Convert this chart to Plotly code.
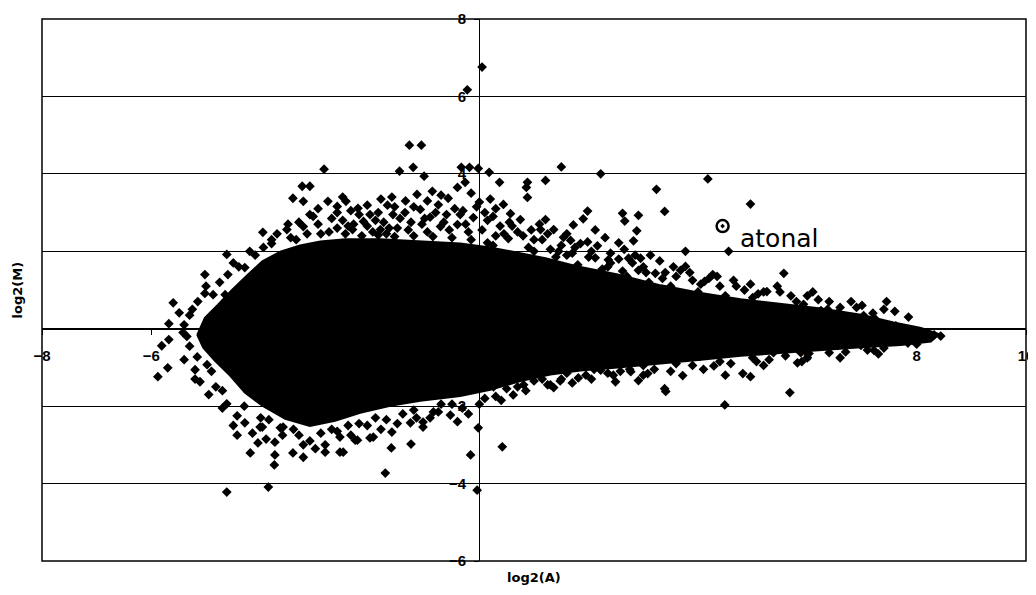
import plotly.graph_objects as go

# ---- dense core of the MA cloud (outline of the solid black region) ----
core_upper_x = [-5.16, -5.02, -4.78, -4.52, -4.23, -3.97, -3.64, -3.28, -2.91, -2.45, -1.81, -1.08,
                -0.35, 0.20, 0.75, 1.21, 1.76, 2.53, 3.32, 4.05, 4.78, 5.51, 6.25, 6.98, 7.58, 8.08, 8.41]
core_upper_y = [-0.16, 0.28, 0.62, 1.01, 1.40, 1.74, 1.99, 2.15, 2.25, 2.31, 2.31, 2.25,
                2.20, 2.10, 1.95, 1.82, 1.62, 1.40, 1.12, 0.92, 0.76, 0.64, 0.52, 0.36, 0.16, 0.02, -0.14]
core_lower_x = [8.26, 7.71, 6.98, 6.25, 5.51, 4.78, 4.05, 3.32, 2.53, 1.85, 1.30, 0.75, 0.20,
                -0.35, -1.08, -1.63, -2.18, -2.64, -3.10, -3.55, -3.97, -4.29, -4.56, -4.84, -5.05]
core_lower_y = [-0.33, -0.42, -0.48, -0.55, -0.62, -0.70, -0.80, -0.90, -1.00, -1.08, -1.18, -1.35, -1.58,
                -1.74, -1.86, -1.99, -2.17, -2.38, -2.51, -2.33, -1.99, -1.65, -1.21, -0.82, -0.49]

# ---- individual genes outside the solid core ----
gene_x = [0.05, -0.22, -1.28, -1.06, -2.84, -1.46, -1.21, -1.01, -0.33, -0.18, -0.02, 0.18, 0.37, 0.88, 0.88,
          1.21, 1.50, 0.86, 2.22, 4.18, 3.24, 4.96, 3.39, 2.91, 2.62, 2.66, 1.98, 1.90, 1.72, 1.36, 1.12, 1.21,
          0.75, 0.57, 0.44, 0.20, 0.00, 0.70, 0.53, 0.15, 0.38, 0.15, -0.11, -0.40, -0.71, -0.90, -1.08, -1.36,
          -1.58, -1.81, -2.12, -2.32, -2.44, -2.05, -2.22, -1.68, -1.14, -0.86, -0.57, -0.40, -0.26, -3.24, -3.10,
          -3.41, -3.22, -2.77, -2.60, -3.04, -3.96, -3.52, -3.22, -4.62, -4.29, -5.02, -4.60, -5.02, -4.87, -4.65,
          -5.60, -5.49, -5.68, -5.42, -5.68, -5.81, -5.70, -5.88, -5.16, -4.98, -5.20, -5.11, -4.82, -4.62, -4.43,
          -4.29, -4.43, -4.19, -3.74, -3.74, -3.75, -3.41, -3.22, -2.82, -2.55, -3.97, -3.59, -4.62, -3.86, -1.72,
          -0.02, -0.16, -0.04, 0.42, -2.82, -3.22, -1.61, -1.25, -1.03, -0.84, -0.53, -0.31, -2.00, -2.27, -2.55,
          -3.64, -4.01, 0.62, 0.81, 1.30, 0.26, -1.03, -1.26, -1.60, -1.94, -2.23, -2.49,
          2.49, 3.39, 3.72, 4.49, 4.82, 4.96, 5.07, 2.91, 3.08, 2.77, 1.36, 1.48, 1.81, 2.22, 2.58, 4.29, 3.41,
          3.77, 4.56, 4.27, 3.77, 3.68, 3.90, 4.12, 4.96, 5.26, 3.00, 3.13, 3.22, 2.95, 2.91, 2.73, 2.36, 2.25,
          2.12, 2.62, 2.12, 1.98, 2.16, 2.55, 2.88, 2.82, 1.54, 1.67,
          5.57, 7.45, 5.93, 6.25, 6.37, 6.54, 7.03, 7.25, 7.62, 8.32, 8.44, 5.82, 5.68, 5.88, 6.03, 6.56, 6.98,
          7.22, 7.45, 7.84, 5.38,
          -2.30, -1.95, -1.50, -1.25, -0.95, -0.60, -0.30, -2.60, -2.90, -3.35, -3.80, -1.70, -0.20, 0.30, -2.00,
          -2.70, -1.35, -0.75, 0.60, 1.00,
          1.00, 1.40, 1.80, 2.20, 2.70, 3.10, 3.50, 4.00, 4.50, 5.00, 5.80, 6.60, 7.20, 1.70, 2.40, 3.40, 4.40,
          5.20, 6.00, 6.90,
          -4.00, -3.30, -2.90, -2.40, -1.90, -1.40, -0.70, 0.10, 0.50, 1.00, 1.60, 2.10, 3.00, 3.60, 4.40, 5.00,
          5.60, 6.40, 7.10, -4.70, -4.90, -5.30, -5.30, -5.15, -4.40, -4.10, -3.80,
          -3.45, -3.15, -2.75, -2.45, -2.15, -1.85, -1.55, -1.20, -0.85, -0.50, -0.15, 0.25,
          -3.30, -2.95, -2.50, -2.20, -1.75, -1.45, -1.05, -0.65, -0.25, 0.05, 0.45,
          -2.95, -2.35, -1.85, -1.20, -0.45, 0.10, 0.55, -1.60, -0.95, -0.15,
          0.90, 1.30, 1.60, 2.00, 2.40, 2.80, 0.80, 1.15, 1.50, 1.85, 2.30, 2.65, 3.00, 3.30, 3.60, 4.20, 4.70,
          5.50, 6.20, 6.80, 7.60,
          -3.60, -3.10, -2.70, -2.20, -1.70, -1.20, -0.90, -0.50, -0.20, 0.30, 0.70, 1.15, 1.50, 1.95, 2.35, 2.75,
          3.20, 3.90, 4.60, 5.30, 6.00, 6.70, 7.40, 8.00,
          -5.40, -5.35, -5.25, -5.00, -4.75, -4.50, -4.20, -3.95, -5.40, -5.20, -4.95, -4.70, -4.50, -4.15, -3.90,
          -3.70, -3.50, -3.10, -2.60, -2.40, -2.05, -1.90, -1.65, -1.30, -1.00, -0.80, -0.55, -0.35, -0.05, 0.25,
          0.30, -1.55, -2.50, -1.80, -0.70,
          0.95, 1.25, 1.45, 1.75, 2.05, 2.35, 2.55, 2.85, 3.05, 3.35, 3.55, 3.85, 4.05, 4.35, 4.65, 4.85, 5.10,
          5.45, 5.70, 6.10, 6.40, 7.00, 7.40, 7.85, 1.10, 1.60,
          -4.30, -4.05, -3.85, -3.40, -3.00, -2.60, -2.35, -2.05, -1.80, -1.50, -1.15, -0.75, -0.40, 0.00, 0.40,
          0.85, 1.25, 1.70, 2.05, 2.45, 3.00, 3.50, 4.10, 4.50, 5.20, 5.90, 6.60, 7.30]
gene_y = [6.76, 6.17, 4.74, 4.74, 4.12, 4.07, 4.17, 3.94, 4.17, 4.17, 4.14, 4.04, 3.78, 3.78, 3.39,
          3.83, 4.18, 3.65, 4.00, 3.87, 3.60, 3.22, 3.03, 2.93, 2.98, 2.78, 3.04, 2.84, 2.68, 2.56, 2.56, 2.82,
          2.82, 2.97, 3.21, 3.35, 3.27, 2.50, 2.33, 2.22, 2.65, 2.80, 2.87, 2.69, 2.64, 2.88, 3.08, 3.00,
          2.95, 2.56, 2.77, 2.56, 3.29, 3.19, 3.11, 3.19, 3.47, 3.55, 3.37, 3.65, 3.78, 3.68, 3.68,
          3.37, 3.29, 3.29, 3.16, 2.90, 2.49, 2.56, 2.64, 1.92, 1.58, 1.40, 1.40, 0.91, 0.88, 0.88,
          0.67, 0.41, 0.13, -0.10, -0.28, -0.44, -1.01, -1.24, -0.73, -0.93, -1.06, -1.37, -1.50, -1.94, -2.25,
          -2.43, -2.75, -3.21, -2.93, -3.26, -3.52, -3.21, -3.32, -3.19, -3.19, -2.54, -2.54, -4.22, -4.09, -3.73,
          -2.56, -3.26, -4.17, -3.05, -3.00, -3.00, -3.08, -2.98, -2.54, -2.15, -2.23, -2.05, -2.82, -2.88, -2.80,
          -2.56, -2.54, -1.71, -1.45, -1.45, -1.50, -2.41, -2.43, -2.67, -2.80, -2.88, -3.19,
          -1.37, -1.55, -1.21, -1.97, -1.16, -1.24, -0.85, -1.34, -1.16, -1.11, -1.52, -1.35, -1.27, -1.07, -1.10,
          -0.96, -1.62,
          2.00, 2.00, 1.40, 1.61, 1.51, 1.25, 1.22, 1.15, 0.96, 1.12, 1.90, 1.43, 1.82, 1.51, 1.82, 1.78, 1.54,
          1.83, 1.49, 2.55, 2.24, 2.14, 2.22, 2.53, 2.27, 2.36, 2.28,
          1.43, 0.70, 0.63, 0.47, 0.50, 0.39, 0.34, 0.24, 0.07, -0.16, -0.19, -0.88, -1.65, -0.62, -0.64, -0.43,
          -0.43, -0.56, -0.36, -0.37, -0.62,
          2.70, 2.50, 2.60, 2.75, 2.50, 2.95, 3.05, 2.60, 2.45, 2.30, 2.20, 2.45, 2.50, 2.40, 2.95,
          2.85, 3.30, 3.20, 2.65, 2.30,
          2.00, 1.85, 1.65, 1.45, 1.35, 1.20, 1.10, 0.95, 0.85, 0.80, 0.70, 0.55, 0.40, 1.95, 1.70, 1.45, 1.10,
          0.95, 0.85, 0.55,
          -2.30, -2.75, -2.70, -2.50, -2.30, -2.20, -1.95, -1.80, -1.55, -1.35, -1.15, -1.05, -0.95, -0.90, -0.85,
          -0.75, -0.70, -0.62, -0.55, -1.60, -1.10, -0.45, 0.35, 0.70, 1.60, 1.90, 2.30,
          2.35, 2.45, 2.50, 2.45, 2.40, 2.42, 2.38, 2.40, 2.38, 2.35, 2.30, 2.15,
          2.75, 2.70, 2.80, 2.95, 2.75, 2.85, 2.70, 2.75, 2.70, 2.55, 2.45,
          3.10, 3.05, 3.00, 3.15, 3.10, 3.00, 2.75, 3.40, 3.30, 3.50,
          2.10, 2.05, 1.90, 1.85, 1.95, 1.70, 2.40, 2.30, 2.15, 2.20, 2.35, 2.05, 1.60, 1.75, 1.35, 1.30, 1.10,
          0.95, 0.75, 0.70, 0.45,
          -2.75, -2.90, -2.60, -2.45, -2.35, -2.10, -2.30, -1.95, -2.20, -1.75, -1.50, -1.30, -1.30, -1.20, -1.15,
          -1.05, -1.05, -0.95, -0.90, -0.80, -0.75, -0.60, -0.50, -0.40,
          0.10, -0.20, 0.50, 1.10, 1.20, 1.70, 2.00, 2.10, -0.80, -1.30, -1.70, -2.05, -2.50, -2.70, -2.85,
          2.45, 2.70, 2.95, 3.00, 2.65, 2.65, 2.80, 2.60, 2.55, 2.85, 3.00, 2.55, 2.95, 3.15, 2.90,
          3.10, 3.15, 3.40, 3.35, 3.45,
          2.55, 2.45, 2.00, 2.10, 2.00, 1.60, 1.80, 1.90, 1.45, 1.30, 1.60, 1.45, 1.15, 1.35, 1.25, 1.00, 0.90,
          1.10, 0.85, 0.95, 0.70, 0.60, 0.50, 0.30, 2.70, 2.45,
          -2.00, -2.95, -2.35, -2.60, -3.10, -2.65, -2.75, -2.50, -2.60, -2.45, -2.30, -2.15, -2.40, -1.95, -1.85,
          -1.60, -1.45, -1.40, -1.30, -1.20, -1.20, -1.10, -1.05, -1.20, -0.95, -0.85, -0.75, -0.65]

# ---- highlighted gene ----
atonal_x = [4.45]
atonal_y = [2.65]
atonal_label = "atonal"

x_ticks = [-8, -6, -4, -2, 0, 2, 4, 6, 8, 10]
y_ticks = [-6, -4, -2, 0, 2, 4, 6, 8]

core_x = core_upper_x + core_lower_x + [core_upper_x[0]]
core_y = core_upper_y + core_lower_y + [core_upper_y[0]]

fig = go.Figure()
fig.add_trace(go.Scatter(x=core_x, y=core_y, mode="lines", fill="toself",
                         fillcolor="black", line=dict(color="black", width=2),
                         hoverinfo="skip", showlegend=False))
fig.add_trace(go.Scatter(x=gene_x, y=gene_y, mode="markers",
                         marker=dict(symbol="diamond", size=7.5, color="black", line=dict(width=0)),
                         showlegend=False))
fig.add_trace(go.Scatter(x=atonal_x, y=atonal_y, mode="markers",
                         marker=dict(symbol="circle-open-dot", size=12, color="black",
                                     line=dict(width=2.5, color="black")),
                         showlegend=False))

tickfont = dict(family="Liberation Sans", size=15, color="black", weight="bold")

# the page has an 8px body margin, so the figure is sized to end at the window edge
fig.update_layout(
    width=1028, height=587,
    margin=dict(l=34, r=10, t=11, b=34, autoexpand=False),
    paper_bgcolor="white", plot_bgcolor="white",
    showlegend=False,
    xaxis=dict(range=[-8, 10], tickvals=x_ticks, showgrid=False, zeroline=False, automargin=False,
               anchor="free", position=6 / 14, showline=True, linecolor="black", linewidth=1.3,
               ticks="outside", ticklen=5, tickcolor="black", tickwidth=1.3,
               tickfont=tickfont, ticklabelstandoff=8, layer="below traces"),
    yaxis=dict(range=[-6, 8], tickvals=y_ticks, showgrid=True, gridcolor="black", gridwidth=1.3,
               zeroline=False, anchor="free", position=8 / 18, showline=True, linecolor="black",
               automargin=False, linewidth=1.3, ticks="outside", ticklen=5, tickcolor="black", tickwidth=1.3,
               tickfont=tickfont, ticklabelstandoff=5, layer="below traces"),
    shapes=[dict(type="rect", xref="paper", yref="paper", x0=0, x1=1, y0=0, y1=1,
                 line=dict(color="black", width=1.5), layer="above")],
    annotations=[
        dict(text=atonal_label, x=4.74, y=2.34, xref="x", yref="y", xanchor="left", yanchor="middle",
             showarrow=False, font=dict(family="DejaVu Sans", size=25, color="black")),
        dict(text="<b>log2(M)</b>", x=-0.025, y=0.5, xref="paper", yref="paper", textangle=-90,
             xanchor="center", yanchor="middle", showarrow=False,
             font=dict(family="DejaVu Sans", size=13, color="black")),
        dict(text="<b>log2(A)</b>", x=0.5, y=-0.031, xref="paper", yref="paper",
             xanchor="center", yanchor="middle", showarrow=False,
             font=dict(family="DejaVu Sans", size=13, color="black")),
    ],
)

fig.write_html("out.html")
